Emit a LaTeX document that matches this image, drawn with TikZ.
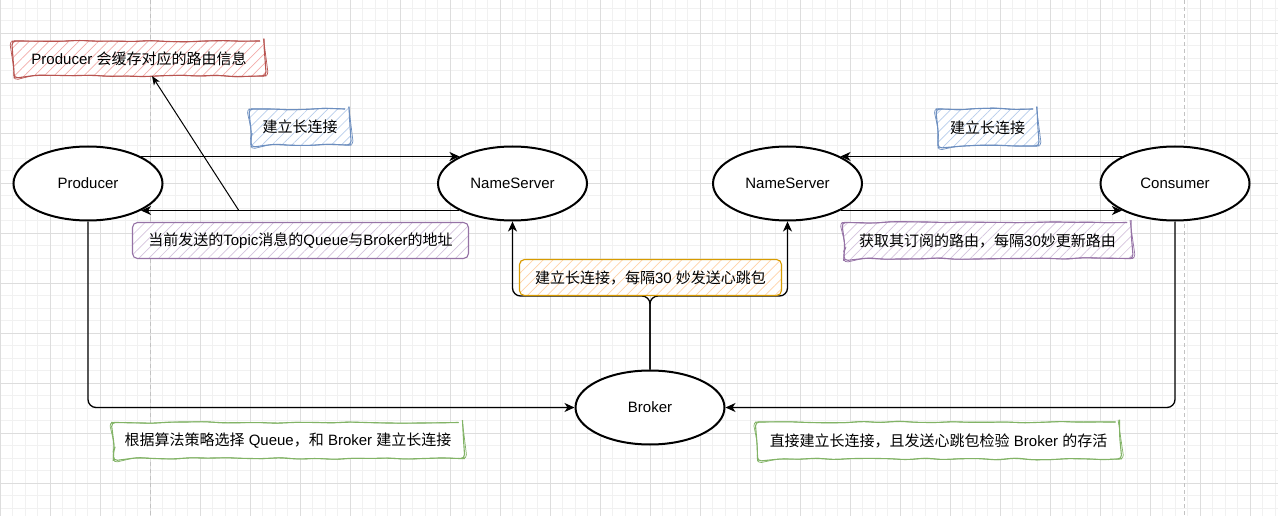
\documentclass[tikz,border=0pt]{standalone}
\usepackage{fontspec}
\setmainfont{Liberation Sans}
\newfontfamily\cjk{Noto Sans CJK SC}
\usetikzlibrary{arrows.meta,patterns.meta,decorations.pathmorphing,calc,shapes.geometric}
\newcommand\zh[1]{{\cjk #1}}

\definecolor{gridminor}{HTML}{F1F1F1}
\definecolor{gridmajor}{HTML}{DDDDDD}
\definecolor{pageline}{HTML}{C2C2C2}
\definecolor{redstroke}{HTML}{B85450}
\definecolor{redhatch}{HTML}{F3ADAA}
\definecolor{bluestroke}{HTML}{6C8EBF}
\definecolor{bluehatch}{HTML}{B7CDEC}
\definecolor{purplestroke}{HTML}{9673A6}
\definecolor{purplehatch}{HTML}{D5C4DE}
\definecolor{orangestroke}{HTML}{D79B00}
\definecolor{orangehatch}{HTML}{FFD3A8}
\definecolor{greenstroke}{HTML}{82B366}

\tikzset{
  ell/.style={ellipse, draw=black, line width=2pt, fill=white,
    minimum width=149pt, minimum height=74pt, inner sep=0pt},
  conn/.style={line width=1.3pt, rounded corners=8pt,
    -{Stealth[length=10pt, width=9pt, inset=3pt]}},
  thinconn/.style={line width=1pt,
    -{Stealth[length=9pt, width=7pt, inset=2.5pt]}},
  hatch/.style={preaction={fill=white},
    preaction={pattern={Lines[angle=45,distance=7pt,line width=0.7pt]},
      pattern color=#1}},
  sketch/.style={draw=#1, line width=1.1pt, rounded corners=4pt,
    decorate, decoration={random steps, segment length=18pt, amplitude=0.8pt},
    postaction={draw=#1, line width=0.7pt, decorate,
      decoration={random steps, segment length=26pt, amplitude=1.1pt}}},
  rbox/.style={draw=#1, line width=1.1pt, rounded corners=5pt},
  every node/.style={font=\fontsize{15}{18}\selectfont, text=black}
}

\begin{document}
\begin{tikzpicture}[x=1pt, y=-1pt]
\pgfmathsetseed{7}
\useasboundingbox (0,0) rectangle (1278,516);
\fill[white] (0,0) rectangle (1278,516);

% background grid
\foreach \i in {0,...,102} { \draw[gridminor, line width=1pt] (\i*12.5,0) -- (\i*12.5,516); }
\foreach \j in {0,...,41} { \draw[gridminor, line width=1pt] (0,8.33+\j*12.5) -- (1278,8.33+\j*12.5); }
\foreach \i in {0,...,25} { \draw[gridmajor, line width=1pt] (\i*50,0) -- (\i*50,516); }
\foreach \j in {0,...,9} { \draw[gridmajor, line width=1pt] (0,33.33+\j*50) -- (1278,33.33+\j*50); }

% page boundaries
\draw[pageline, line width=1pt, dash pattern=on 4pt off 3pt] (150.5,0) -- (150.5,516);
\draw[pageline, line width=1pt, dash pattern=on 4pt off 3pt] (1184,0) -- (1184,516);

% main actors
\node[ell] (prod)   at (88,183.5)    {Producer};
\node[ell] (ns1)    at (512.5,183.5) {NameServer};
\node[ell] (ns2)    at (787.5,183.5) {NameServer};
\node[ell] (cons)   at (1175,183.5)  {Consumer};
\node[ell] (broker) at (650,407.5)   {Broker};

% route cache note
\node[sketch=redstroke, hatch=redhatch, minimum width=250pt, minimum height=35pt]
  (cache) at (139,58.5) {Producer \zh{会缓存对应的路由信息}};

% connections between actors
\draw[conn] (prod.27) -- (ns1.153);
\draw[conn] (ns1.-153) -- (prod.-27);
\draw[conn] (cons.153) -- (ns2.27);
\draw[conn] (ns2.-27) -- (cons.-153);
\draw[conn] (prod.south) |- (broker.west);
\draw[conn] (cons.south) |- (broker.east);
\draw[conn] (broker.north) -- ++(0,-73.5) -| (ns1.south);
\draw[conn] (broker.north) -- ++(0,-73.5) -| (ns2.south);

\coordinate (tail) at (238.5,210);
\coordinate (tip) at (152,76);
\draw[thinconn] (tail) -- (tip);

% labels
\node[sketch=bluestroke, hatch=bluehatch, minimum width=98pt, minimum height=36pt]
  (lnk1) at (300,127) {\zh{建立长连接}};
\node[sketch=bluestroke, hatch=bluehatch, minimum width=99pt, minimum height=37pt]
  (lnk2) at (987.5,127.5) {\zh{建立长连接}};
\node[rbox=purplestroke, hatch=purplehatch, minimum width=336pt, minimum height=36pt]
  (addr) at (300.5,240.5) {\zh{当前发送的}Topic\zh{消息的}Queue\zh{与}Broker\zh{的地址}};
\node[sketch=purplestroke, hatch=purplehatch, minimum width=287pt, minimum height=36pt]
  (route) at (987.5,240.5) {\zh{获取其订阅的路由，每隔}30\zh{妙更新路由}};
\node[rbox=orangestroke, hatch=orangehatch, minimum width=262pt, minimum height=36pt]
  (beat) at (650.5,277.5) {\zh{建立长连接，每隔}30 \zh{妙发送心跳包}};
\node[sketch=greenstroke, fill=white, minimum width=349pt, minimum height=36pt]
  (pick) at (288,440.5) {\zh{根据算法策略选择} Queue\zh{，和} Broker \zh{建立长连接}};
\node[sketch=greenstroke, fill=white, minimum width=362pt, minimum height=37pt]
  (alive) at (938.5,440.5) {\zh{直接建立长连接，且发送心跳包检验} Broker \zh{的存活}};
\end{tikzpicture}
\end{document}
